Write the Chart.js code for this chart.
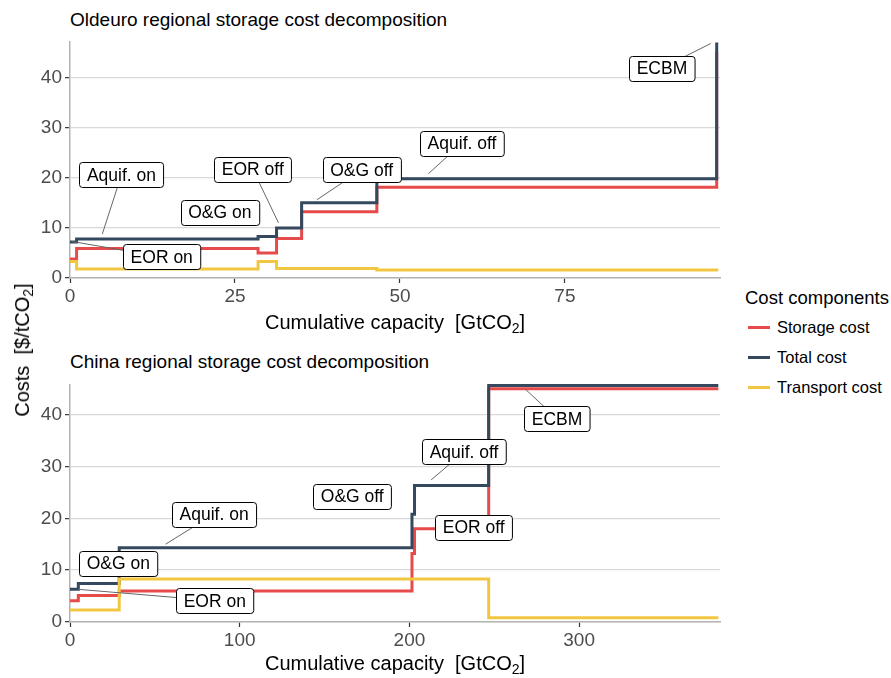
<!DOCTYPE html>
<html>
<head>
<meta charset="utf-8">
<script src="https://cdn.jsdelivr.net/npm/chart.js@4.4.0/dist/chart.umd.min.js"></script>
<style>
body { margin: 0; background: #fff; font-family: "Liberation Sans", Arial, sans-serif; }
#page { position: relative; width: 891px; height: 678px; overflow: hidden; }
canvas { position: absolute; left: 0; }
.title { position: absolute; left: 70px; font-size: 19px; line-height: 20px; color: #000; white-space: nowrap; }
.xtitle { position: absolute; left: 70px; width: 650px; text-align: center; font-size: 20px; line-height: 20px; white-space: nowrap; }
.ytitle { position: absolute; left: 22px; top: 350px; font-size: 20px; line-height: 20px; white-space: nowrap;
          transform: translate(-50%, -50%) rotate(-90deg); }
sub { font-size: 0.7em; vertical-align: -0.3em; line-height: 0; }
.legtitle { position: absolute; left: 745px; top: 288px; font-size: 18.5px; line-height: 20px; white-space: nowrap; }
.legitem { position: absolute; left: 748px; height: 20px; font-size: 16.5px; line-height: 20px; white-space: nowrap; }
.legitem span.sw { position: absolute; left: 0; top: 9px; width: 22px; height: 3px; }
.legitem span.tx { position: absolute; left: 29px; top: 0; }
</style>
</head>
<body>
<div id="page">
  <div class="title" style="top:10px">Oldeuro regional storage cost decomposition</div>
  <canvas id="topChart" width="740" height="296" style="top:22px"></canvas>
  <div class="xtitle" style="top:312px">Cumulative capacity&nbsp; [GtCO<sub>2</sub>]</div>

  <div class="title" style="top:352px">China regional storage cost decomposition</div>
  <canvas id="bottomChart" width="740" height="297" style="top:365px"></canvas>
  <div class="xtitle" style="top:653px">Cumulative capacity&nbsp; [GtCO<sub>2</sub>]</div>

  <div class="ytitle">Costs&nbsp; [$/tCO<sub>2</sub>]</div>

  <div class="legtitle">Cost components</div>
  <div class="legitem" style="top:317px"><span class="sw" style="background:#e64a4a"></span><span class="tx">Storage cost</span></div>
  <div class="legitem" style="top:347px"><span class="sw" style="background:#34495e"></span><span class="tx">Total cost</span></div>
  <div class="legitem" style="top:377px"><span class="sw" style="background:#f1c742"></span><span class="tx">Transport cost</span></div>
</div>

<script>
// ===== Data: Oldeuro =====
const euStorageX   = [0, 1, 28.5, 31.3, 35.1, 46.5, 98];
const euStorage    = [3.8, 5.9, 5.0, 7.9, 13.2, 18.1, 45.1];
const euTotalX     = [0, 1, 28.5, 31.3, 35.1, 46.5, 98];
const euTotal      = [7.2, 7.8, 8.3, 10.0, 15.0, 19.8, 47.0];
const euTransportX = [0, 1, 28.5, 31.3, 46.5, 98];
const euTransport  = [3.3, 1.8, 3.3, 1.9, 1.6, 1.9];

// ===== Data: China =====
const cnStorageX   = [0, 4.9, 29, 201.5, 203, 246.7, 382];
const cnStorage    = [4.1, 5.1, 6.0, 13.2, 18.0, 45.0, 45.0];
const cnTotalX     = [0, 4.9, 29, 201.5, 203, 246.7, 382];
const cnTotal      = [6.3, 7.4, 14.3, 20.8, 26.3, 45.6, 45.6];
const cnTransportX = [0, 29, 246.7, 382];
const cnTransport  = [2.3, 8.3, 0.8, 0.8];

// ===== Tick labels =====
const euXTicks = [0, 25, 50, 75];
const cnXTicks = [0, 100, 200, 300];
const yTicks   = [0, 10, 20, 30, 40];

// ===== Annotation labels (label centre + leader line end, data units) =====
const euNoteText = ["Aquif. on", "EOR on", "O&G on", "EOR off", "O&G off", "Aquif. off", "ECBM"];
const euNoteX    = [7.8, 13.9, 22.7, 27.7, 44.2, 59.4, 89.7];
const euNoteY    = [20.6, 4.2, 13.1, 21.7, 21.6, 26.9, 41.9];
const euPointX   = [4.9, 0.26, null, 31.6, 37.4, 54.3, 97.1];
const euPointY   = [8.8, 7.3, null, 11.0, 15.6, 20.8, 46.8];

const cnNoteText = ["O&G on", "EOR on", "Aquif. on", "O&G off", "EOR off", "Aquif. off", "ECBM"];
const cnNoteX    = [28.5, 85.3, 84.9, 166.3, 237.9, 232.2, 287];
const cnNoteY    = [11.3, 4.1, 20.8, 24.2, 18.3, 32.8, 39.2];
const cnPointX   = [null, 4.9, 56.3, null, null, 212.8, 268.6];
const cnPointY   = [null, 6.3, 15.0, null, null, 27.4, 44.8];

const COLORS = { storage: "#e64a4a", total: "#34495e", transport: "#f1c742" };
const FONT = "'Liberation Sans', Arial, sans-serif";

function pts(xs, ys) {
    return xs.map((x, i) => ({ x: x, y: ys[i] }));
}

// labels with leader lines, drawn after the lines
const noteLabels = {
    id: "noteLabels",
    afterDatasetsDraw(chart, args, opts) {
        const ctx = chart.ctx;
        const sx = chart.scales.x, sy = chart.scales.y;
        ctx.save();
        ctx.font = "17.5px " + FONT;
        opts.text.forEach((t, i) => {
            const cx = sx.getPixelForValue(opts.x[i]);
            const cy = sy.getPixelForValue(opts.y[i]);
            if (opts.px[i] !== null) {
                ctx.strokeStyle = "#666";
                ctx.lineWidth = 1;
                ctx.beginPath();
                ctx.moveTo(cx, cy);
                ctx.lineTo(sx.getPixelForValue(opts.px[i]), sy.getPixelForValue(opts.py[i]));
                ctx.stroke();
            }
            const w = ctx.measureText(t).width + 15;
            const h = 25;
            ctx.beginPath();
            ctx.roundRect(Math.round(cx - w / 2) + 0.5, Math.round(cy - h / 2) + 0.5, w, h, 3);
            ctx.fillStyle = "#fff";
            ctx.fill();
            ctx.strokeStyle = "#000";
            ctx.lineWidth = 1;
            ctx.stroke();
            ctx.fillStyle = "#000";
            ctx.textAlign = "center";
            ctx.textBaseline = "middle";
            ctx.fillText(t, cx, cy + 1);
        });
        ctx.restore();
    }
};

function makeChart(id, series, xMax, yMax, xTicks, notes) {
    const sets = [
        { label: "Storage cost", data: series.storage, borderColor: COLORS.storage, order: 3 },
        { label: "Total cost", data: series.total, borderColor: COLORS.total, order: 2 },
        { label: "Transport cost", data: series.transport, borderColor: COLORS.transport, order: 1 }
    ].map(d => Object.assign(d, {
        stepped: "before",
        borderWidth: 3,
        pointRadius: 0,
        fill: false,
        clip: false,
        borderCapStyle: "butt",
        borderJoinStyle: "miter"
    }));

    return new Chart(document.getElementById(id), {
        type: "line",
        data: { datasets: sets },
        plugins: [noteLabels],
        options: {
            responsive: false,
            animation: false,
            devicePixelRatio: 1,
            layout: { padding: { top: 20, right: 20, left: 0, bottom: 0 } },
            plugins: {
                legend: { display: false },
                tooltip: { enabled: false },
                noteLabels: notes
            },
            scales: {
                x: {
                    type: "linear",
                    min: 0,
                    max: xMax,
                    afterBuildTicks: s => { s.ticks = xTicks.map(v => ({ value: v })); },
                    afterFit: s => { s.height = 40; },
                    grid: { drawOnChartArea: false, drawTicks: true, tickLength: 5, tickColor: "#333", tickWidth: 1.2 },
                    border: { color: "#b3b3b3", width: 1.5 },
                    ticks: { color: "#4d4d4d", font: { size: 19, family: FONT }, padding: 2, maxRotation: 0 }
                },
                y: {
                    min: 0,
                    max: yMax,
                    afterBuildTicks: s => { s.ticks = yTicks.map(v => ({ value: v })); },
                    afterFit: s => { s.width = 70; },
                    grid: { color: "#d9d9d9", lineWidth: 1.3, tickLength: 5, tickColor: "#333", tickWidth: 1.2 },
                    border: { color: "#b3b3b3", width: 1.5 },
                    ticks: { color: "#4d4d4d", font: { size: 19, family: FONT }, padding: 3 }
                }
            }
        }
    });
}

makeChart("topChart",
    { storage: pts(euStorageX, euStorage), total: pts(euTotalX, euTotal), transport: pts(euTransportX, euTransport) },
    98.5, 47.1, euXTicks,
    { text: euNoteText, x: euNoteX, y: euNoteY, px: euPointX, py: euPointY });

makeChart("bottomChart",
    { storage: pts(cnStorageX, cnStorage), total: pts(cnTotalX, cnTotal), transport: pts(cnTransportX, cnTransport) },
    383, 45.7, cnXTicks,
    { text: cnNoteText, x: cnNoteX, y: cnNoteY, px: cnPointX, py: cnPointY });
</script>
</body>
</html>
